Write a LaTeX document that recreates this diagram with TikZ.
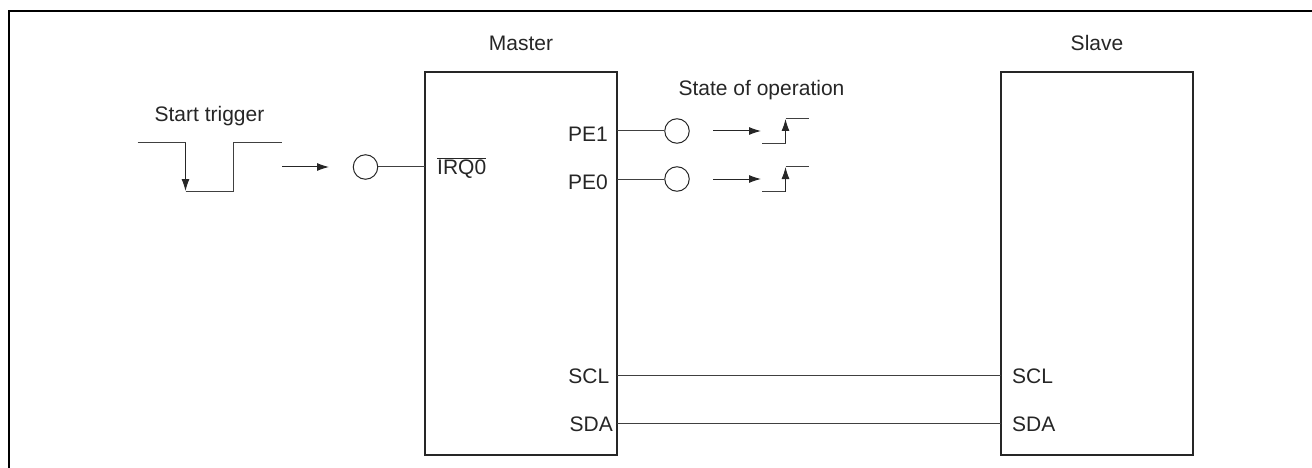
\documentclass[tikz,border=0pt]{standalone}
\usepackage{fontspec}
\setmainfont{Liberation Sans}
\usetikzlibrary{arrows.meta}
\tikzset{
  x=1pt,y=-1pt,
  frame/.style={draw=black,line width=2.2pt},
  chip/.style={draw=black!85,line width=2.8pt,outer sep=0pt,inner sep=0pt,minimum width=192pt,minimum height=383pt,anchor=north west},
  wire/.style={draw=black!75,line width=1pt},
  pin/.style={draw=black!85,line width=1pt,circle,minimum size=24.5pt,inner sep=0pt},
  arr/.style={draw=black!85,line width=1pt,-{Latex[length=12pt,width=8pt]}},
  lbl/.style={font=\fontsize{21}{24}\selectfont,text=black!85,inner sep=0pt},
}
\begin{document}
\begin{tikzpicture}
\useasboundingbox (0,0) rectangle (1312,468);
\draw[frame] (9,468) -- (9,11) -- (1312,11);
% chips
\node[chip] (master) at (425,72) {};
\node[chip] (slave) at (1001,72) {};
% titles
\node[lbl] (tmaster) at (521,43) {Master};
\node[lbl] (tslave) at (1097,43) {Slave};
\node[lbl] (tstart) at (209.5,116) {Start trigger};
\node[lbl] (tstate) at (761.5,90) {State of operation};
% master pins
\node[lbl,anchor=west] (irq) at (437,168) {$\overline{\mbox{IRQ0}}$};
\node[lbl,anchor=east] (pe1) at (608,134) {PE1};
\node[lbl,anchor=east] (pe0) at (608,182) {PE0};
\node[lbl,anchor=east] (sclm) at (609.5,376) {SCL};
\node[lbl,anchor=east] (sdam) at (613,424) {SDA};
% slave pins
\node[lbl,anchor=west] (scls) at (1012,376) {SCL};
\node[lbl,anchor=west] (sdas) at (1012,424) {SDA};
% circles
\node[pin] (c0) at (365.5,167) {};
\node[pin] (c1) at (677,131) {};
\node[pin] (c2) at (677,179) {};
% connection points on chips
\coordinate (m0) at (425,167);
\coordinate (m1) at (617,131);
\coordinate (m2) at (617,179);
\coordinate (m3) at (617,375);
\coordinate (m4) at (617,423);
\coordinate (s3) at (1001,375);
\coordinate (s4) at (1001,423);
\draw[wire] (c0) -- (m0);
\draw[wire] (m1) -- (c1);
\draw[wire] (m2) -- (c2);
\draw[wire] (m3) -- (s3);
\draw[wire] (m4) -- (s4);
% start trigger waveform
\coordinate (w1) at (137.5,143);
\coordinate (w2) at (185.5,143);
\coordinate (w3) at (185.5,191);
\coordinate (w4) at (233.5,191);
\coordinate (w5) at (233.5,143);
\coordinate (w6) at (282,143);
\draw[wire] (w1) -- (w2);
\draw[arr] (w2) -- (w3);
\draw[wire] (w3) -- (w4) -- (w5) -- (w6);
\coordinate (a0s) at (282,167);
\coordinate (a0e) at (329,167);
\draw[arr] (a0s) -- (a0e);
% rising edges
\coordinate (a1s) at (713,131);
\coordinate (a1e) at (761,131);
\draw[arr] (a1s) -- (a1e);
\coordinate (r1) at (762,143.5);
\coordinate (r2) at (785.5,143.5);
\coordinate (r3) at (785.5,119);
\coordinate (r4) at (809,119);
\draw[wire] (r1) -- (r2);
\draw[arr] (r2) -- (r3);
\draw[wire] (r3) -- (r4);
\coordinate (a2s) at (713,179);
\coordinate (a2e) at (761,179);
\draw[arr] (a2s) -- (a2e);
\coordinate (q1) at (762,191.5);
\coordinate (q2) at (785.5,191.5);
\coordinate (q3) at (785.5,167);
\coordinate (q4) at (809,167);
\draw[wire] (q1) -- (q2);
\draw[arr] (q2) -- (q3);
\draw[wire] (q3) -- (q4);
\end{tikzpicture}
\end{document}
